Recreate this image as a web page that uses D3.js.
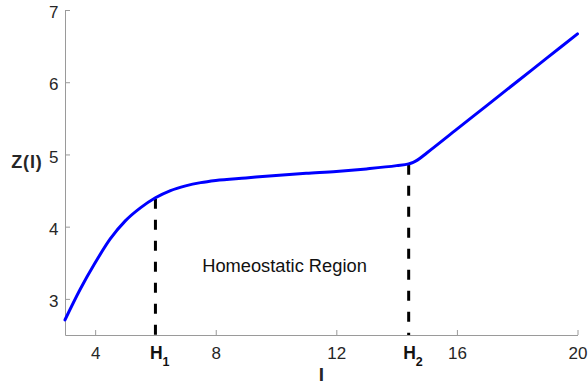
<!DOCTYPE html>
<html>
<head>
<meta charset="utf-8">
<script src="https://cdn.jsdelivr.net/npm/d3@7"></script>
<style>
  html, body { margin: 0; padding: 0; background: #fff; }
  svg { display: block; }
  text { font-family: "Liberation Sans", Arial, Helvetica, sans-serif; }
</style>
</head>
<body>
<svg id="chart" width="588" height="386"></svg>
<script>
// Input level I and response Z(I)
const inputI = [3, 3.5, 4, 4.5, 5, 5.5, 6, 6.5, 7, 7.5, 8, 9, 10, 11, 12, 13, 14, 14.4, 14.55, 14.7, 15, 16, 17, 18, 19, 20];
const responseZ = [2.71, 3.13, 3.50, 3.83, 4.08, 4.26, 4.40, 4.50, 4.565, 4.61, 4.64, 4.675, 4.71, 4.74, 4.765, 4.80, 4.845, 4.87, 4.89, 4.925, 5.02, 5.35, 5.68, 6.01, 6.34, 6.67];

// Boundaries of the homeostatic region
const thresholds = [
  { name: "H", sub: "1", at: 6, z: 4.40 },
  { name: "H", sub: "2", at: 14.4, z: 4.87 }
];

const xTicks = [4, 8, 12, 16, 20];
const yTicks = [3, 4, 5, 6, 7];

const svg = d3.select("#chart");
const margin = { top: 10, right: 10.5, bottom: 51, left: 65 };
const W = 588, H = 386;

const x = d3.scaleLinear().domain([3, 20]).range([margin.left, W - margin.right]);
const y = d3.scaleLinear().domain([2.5, 7]).range([H - margin.bottom, margin.top]);

const axisColor = "#9a9a9a";
const labelColor = "#262626";
const fontStack = "Liberation Sans, Arial, sans-serif";

// X axis (ticks pointing inward)
const gx = svg.append("g")
  .attr("transform", `translate(0,${y(2.5)})`)
  .call(d3.axisBottom(x).tickValues(xTicks).tickFormat(d3.format("d"))
    .tickSizeInner(-5).tickSizeOuter(0));
gx.select(".domain").attr("stroke", axisColor).attr("stroke-width", 1);
gx.selectAll(".tick line").attr("stroke", axisColor);
gx.selectAll(".tick text")
  .attr("fill", labelColor).attr("font-size", 17)
  .attr("font-family", fontStack)
  .attr("y", 24).attr("dy", 0);

// Y axis
const gy = svg.append("g")
  .attr("transform", `translate(${x(3)},0)`)
  .call(d3.axisLeft(y).tickValues(yTicks).tickFormat(d3.format("d"))
    .tickSizeInner(-5).tickSizeOuter(0));
gy.select(".domain").attr("stroke", axisColor).attr("stroke-width", 1);
gy.selectAll(".tick line").attr("stroke", axisColor);
gy.selectAll(".tick text")
  .attr("fill", labelColor).attr("font-size", 17)
  .attr("font-family", fontStack)
  .attr("x", -6.5).attr("dy", "0.45em");

// Threshold markers: dashed verticals down to the axis
svg.selectAll("line.threshold")
  .data(thresholds)
  .join("line")
  .attr("class", "threshold")
  .attr("x1", d => x(d.at)).attr("x2", d => x(d.at))
  .attr("y1", d => y(d.z)).attr("y2", y(2.5))
  .attr("stroke", "#000")
  .attr("stroke-width", 3)
  .attr("stroke-dasharray", "10,11")
  .attr("stroke-dashoffset", -1);

// Threshold labels with subscripts
const hl = svg.selectAll("text.hlabel")
  .data(thresholds)
  .join("text")
  .attr("class", "hlabel")
  .attr("x", d => x(d.at) - 5.5)
  .attr("y", 358.5)
  .attr("font-size", 17.5)
  .attr("font-weight", "bold")
  .attr("fill", "#111");
hl.append("tspan").text(d => d.name);
hl.append("tspan").attr("font-size", 12.5).attr("dy", 7).text(d => d.sub);

// Response curve
const line = d3.line()
  .x((d, i) => x(inputI[i]))
  .y(d => y(d))
  .curve(d3.curveMonotoneX);

svg.append("path")
  .datum(responseZ)
  .attr("d", line)
  .attr("fill", "none")
  .attr("stroke", "#0000ff")
  .attr("stroke-width", 3)
  .attr("stroke-linejoin", "round")
  .attr("stroke-linecap", "round");

// Region annotation
svg.append("text")
  .attr("x", 284.5).attr("y", 272)
  .attr("text-anchor", "middle")
  .attr("font-size", 18.3)
  .attr("fill", "#111")
  .text("Homeostatic Region");

// Axis titles
svg.append("text")
  .attr("x", 42.5).attr("y", 167.5)
  .attr("text-anchor", "end")
  .attr("font-size", 18)
  .attr("font-weight", "bold")
  .attr("letter-spacing", 0.8)
  .attr("fill", labelColor)
  .text("Z(I)");

svg.append("text")
  .attr("x", 321.5).attr("y", 381)
  .attr("text-anchor", "middle")
  .attr("font-size", 19)
  .attr("font-weight", "bold")
  .attr("fill", labelColor)
  .text("I");
</script>
</body>
</html>
